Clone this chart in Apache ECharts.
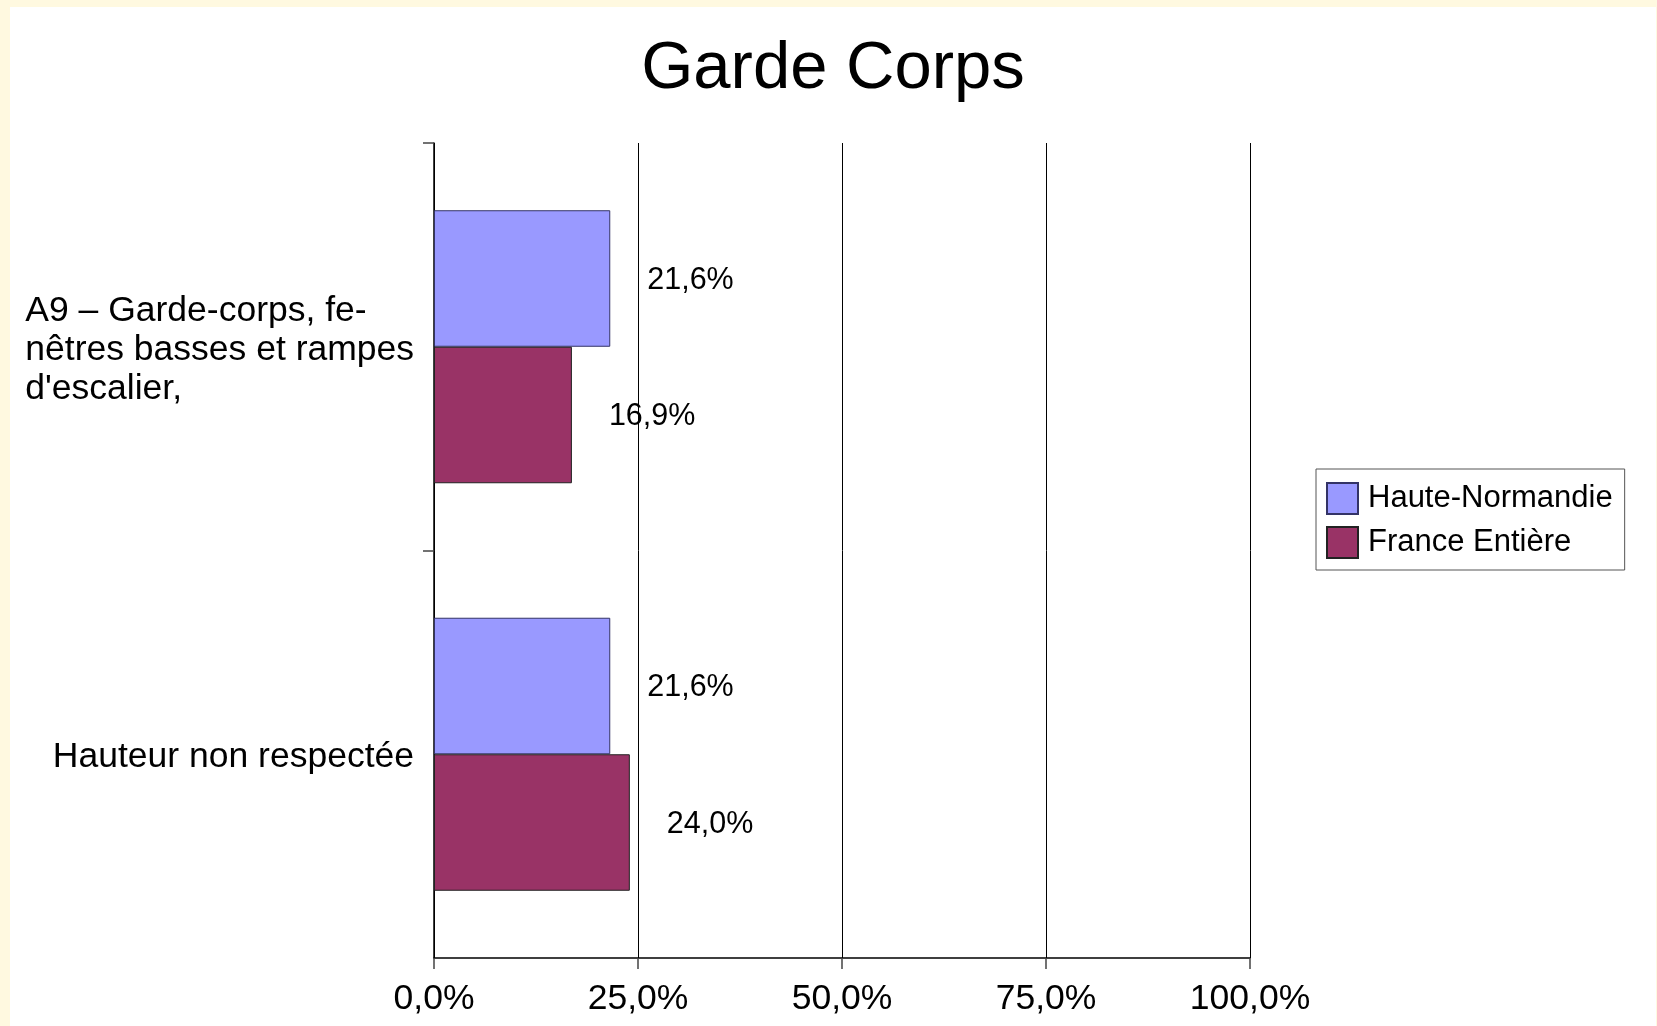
<!DOCTYPE html>
<html>
<head>
<meta charset="utf-8">
<script src="https://cdn.jsdelivr.net/npm/echarts@6/dist/echarts.min.js"></script>
<style>
  html, body { margin: 0; padding: 0; background: #fff9e0; }
  #chart { position: absolute; left: 10px; top: 7px; width: 1646px; height: 1019px; background: #ffffff; }
</style>
</head>
<body>
<div id="chart"></div>
<script>
// categories (top to bottom)
var categories = [
  'A9 – Garde-corps, fe-\nnêtres basses et rampes\nd\'escalier,',
  'Hauteur non respectée'
];
var seriesNames = ['Haute-Normandie', 'France Entière'];
var hauteNormandie = [21.6, 21.6];
var franceEntiere = [16.9, 24.0];
var xTicks = [0, 25, 50, 75, 100];

var FONT = '"Liberation Sans", Arial, sans-serif';

function pct(v) {
  return Number(v).toFixed(1).replace('.', ',') + '%';
}

var myChart = echarts.init(document.getElementById('chart'));

var barLabel = {
  show: true,
  position: 'right',
  distance: 37,
  offset: [0, 2],
  color: '#000',
  fontFamily: FONT,
  fontSize: 30.5,
  formatter: function (p) { return pct(p.value); }
};

var option = {
  animation: false,
  title: {
    text: 'Garde Corps',
    left: 'center',
    top: 24,
    textStyle: { fontFamily: FONT, fontSize: 67, fontWeight: 'normal', color: '#000' }
  },
  legend: {
    orient: 'vertical',
    left: 1306,
    top: 462,
    itemWidth: 31,
    itemHeight: 31,
    itemGap: 11,
    padding: [13, 12, 11, 10],
    borderColor: '#555',
    borderWidth: 1,
    icon: 'rect',
    textStyle: { fontFamily: FONT, fontSize: 31, color: '#000', padding: [0, 0, 0, 5] },
    data: seriesNames
  },
  grid: { left: 424, right: 406, top: 136, bottom: 68 },
  xAxis: {
    type: 'value',
    position: 'bottom',
    min: xTicks[0],
    max: xTicks[xTicks.length - 1],
    interval: 25,
    axisLine: { show: true, onZero: false, lineStyle: { color: '#000', width: 1.5 } },
    axisTick: { show: true, length: 11, lineStyle: { color: '#444', width: 1.5 } },
    splitLine: { show: true, lineStyle: { color: '#000', width: 1 } },
    axisLabel: {
      margin: 23,
      color: '#000',
      fontFamily: FONT,
      fontSize: 35.5,
      formatter: function (v) { return pct(v); }
    }
  },
  yAxis: [{
    type: 'category',
    inverse: true,
    data: categories,
    axisLine: { show: true, onZero: false, lineStyle: { color: '#000', width: 1.5 } },
    axisTick: { show: false },
    axisLabel: {
      margin: 20,
      align: 'right',
      padding: [6, 0, 0, 0],
      formatter: function (v) {
        return v.split('\n').map(function (s) { return '{l|' + s + '}'; }).join('\n');
      },
      rich: {
        l: { align: 'left', fontFamily: FONT, fontSize: 35.5, lineHeight: 39, color: '#000' }
      }
    }
  }, {
    // only for the band ticks at top and middle (no tick at the bottom corner)
    type: 'value',
    position: 'left',
    inverse: true,
    min: 0,
    max: categories.length,
    interval: 1,
    axisLine: { show: false, onZero: false },
    axisTick: { show: true, length: 11, customValues: [0, 1], lineStyle: { color: '#444', width: 1.5 } },
    axisLabel: { show: false },
    splitLine: { show: false }
  }],
  series: [{
    name: seriesNames[0],
    type: 'bar',
    data: hauteNormandie,
    barGap: '0%',
    barCategoryGap: '33%',
    itemStyle: { color: '#9999ff', borderColor: '#333366', borderWidth: 1 },
    label: barLabel
  }, {
    name: seriesNames[1],
    type: 'bar',
    data: franceEntiere,
    barGap: '0%',
    barCategoryGap: '33%',
    itemStyle: { color: '#993366', borderColor: '#222', borderWidth: 1 },
    label: barLabel
  }]
};

myChart.setOption(option);
</script>
</body>
</html>
